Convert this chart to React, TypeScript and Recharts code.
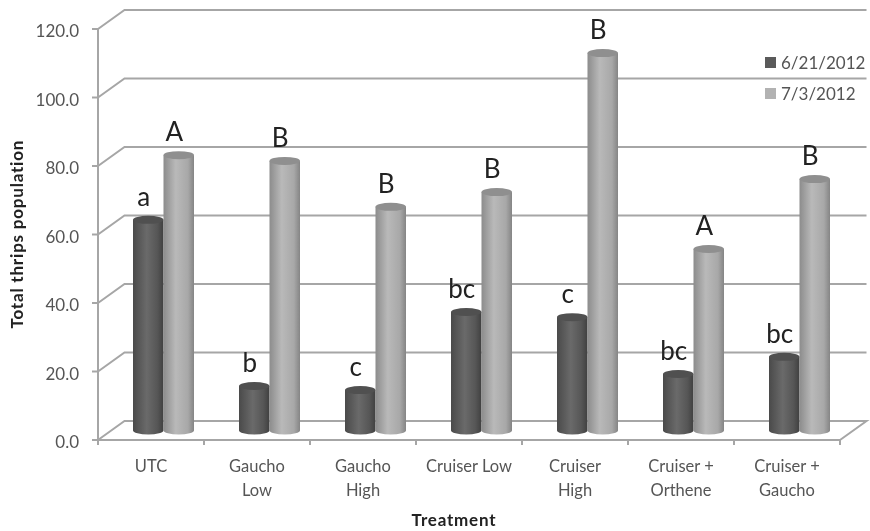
import React from "react";
import { BarChart, Bar, XAxis, YAxis, CartesianGrid, LabelList, Legend } from "recharts";

const categories = ["UTC", "Gaucho|Low", "Gaucho|High", "Cruiser Low", "Cruiser|High", "Cruiser +|Orthene", "Cruiser +|Gaucho"];
const june = [61.5, 13, 11.8, 34.6, 33.1, 16.5, 21.5];
const july = [80.4, 78.7, 65.3, 69.6, 110.2, 53, 73.4];
const juneLetters = ["a", "b", "c", "bc", "c", "bc", "bc"];
const julyLetters = ["A", "B", "B", "B", "B", "A", "B"];
const yTicks = [0, 20, 40, 60, 80, 100, 120];
const seriesNames = ["6/21/2012", "7/3/2012"];

const data = categories.map((c, i) => ({
  category: c,
  june: june[i],
  july: july[i],
  juneLetter: juneLetters[i],
  julyLetter: julyLetters[i],
}));

const W = 870, H = 531;
const M = { left: 98, right: 30, top: 29, bottom: 91 };
const PLOT_W = W - M.left - M.right;
const DEPTH_X = 26.5, DEPTH_Y = 19;
const SHIFT_X = 12, SHIFT_Y = 9.5;
const GRID = "#a6a6a6";
const TEXT = "#555555";
const FONT = "Lato, 'Open Sans', sans-serif";

const Cylinder = ({ x, y, width, height, gradient, cap }: any) => {
  const cx = x + SHIFT_X, ty = y - SHIFT_Y, ry = 4, w = width;
  const by = ty + height;
  const d = `M${cx},${ty} L${cx},${by} A${w / 2},${ry} 0 0 0 ${cx + w},${by} L${cx + w},${ty} Z`;
  return (
    <g>
      <path d={d} fill={`url(#${gradient})`} />
      <ellipse cx={cx + w / 2} cy={ty} rx={w / 2} ry={ry} fill={cap} />
    </g>
  );
};

const GridLine = ({ x1, x2, y1 }: any) => (
  <polyline
    points={`${x1},${y1} ${x1 + DEPTH_X},${y1 - DEPTH_Y} ${x2 + DEPTH_X},${y1 - DEPTH_Y}${Math.abs(y1 - (H - M.bottom)) < 1 ? ` ${x2},${y1}` : ""}`}
    fill="none"
    stroke={GRID}
    strokeWidth={2}
  />
);

const CategoryTick = ({ x, y, payload, index }: any) => {
  const lines = String(payload.value).split("|");
  const step = PLOT_W / categories.length;
  const left = x - step / 2;
  return (
    <g>
      <line x1={left} x2={left} y1={y} y2={y + 5} stroke={GRID} strokeWidth={2} />
      {index === categories.length - 1 && (
        <line x1={left + step} x2={left + step} y1={y} y2={y + 5} stroke={GRID} strokeWidth={2} />
      )}
      {lines.map((l, i) => (
        <text key={i} x={x} y={y + 32 + i * 24} textAnchor="middle" fontSize={16.5} fontFamily={FONT} fill={TEXT}>
          {l}
        </text>
      ))}
    </g>
  );
};

const LetterLabel = ({ x, y, width, value }: any) => (
  <text
    x={x + SHIFT_X + width / 2 - 4.5}
    y={y - SHIFT_Y - 14}
    textAnchor="middle"
    fontSize={26}
    fontFamily={FONT}
    fill="#222222"
  >
    {value}
  </text>
);

const LegendBox = () => (
  <div style={{ fontFamily: FONT, fontSize: 17, color: TEXT, lineHeight: "31px" }}>
    {seriesNames.map((n, i) => (
      <div key={n} style={{ display: "flex", alignItems: "center", whiteSpace: "nowrap" }}>
        <span style={{ width: 11, height: 11, marginRight: 5, background: i === 0 ? "#5a5a5a" : "#b2b2b2" }} />
        {n}
      </div>
    ))}
  </div>
);

export default function App() {
  return (
    <div style={{ position: "absolute", left: 0, top: 0, width: W, height: H, background: "#fff", filter: "blur(0.6px)" }}>
      <BarChart
        width={W}
        height={H}
        data={data}
        margin={{ left: M.left - 60, right: M.right, top: M.top, bottom: M.bottom - 40 }}
        barGap={0}
        barSize={30.5}
        barCategoryGap={0}
      >
        <defs>
          <linearGradient id="darkCyl" x1="0" x2="1" y1="0" y2="0">
            <stop offset="0" stopColor="#4a4a4a" />
            <stop offset="0.45" stopColor="#6a6a6a" />
            <stop offset="0.8" stopColor="#565656" />
            <stop offset="1" stopColor="#404040" />
          </linearGradient>
          <linearGradient id="lightCyl" x1="0" x2="1" y1="0" y2="0">
            <stop offset="0" stopColor="#8c8c8c" />
            <stop offset="0.4" stopColor="#b9b9b9" />
            <stop offset="0.8" stopColor="#a8a8a8" />
            <stop offset="1" stopColor="#858585" />
          </linearGradient>
        </defs>
        <CartesianGrid horizontal={GridLine as any} vertical={false} syncWithTicks />
        <XAxis
          dataKey="category"
          height={40}
          interval={0}
          tick={CategoryTick as any}
          tickLine={false}
          tickSize={0}
          tickMargin={0}
          axisLine={{ stroke: GRID, strokeWidth: 2 }}
          label={{ value: "Treatment", position: "insideBottom", dy: 50.5, dx: -15, fontSize: 17, fontWeight: 700, letterSpacing: 0.8, fontFamily: FONT, fill: "#222" }}
        />
        <YAxis
          width={60}
          domain={[0, 120]}
          ticks={yTicks}
          interval={0}
          tickFormatter={(v: number) => v.toFixed(1)}
          tickSize={6}
          tickMargin={13}
          tick={{ fontSize: 17, fontFamily: FONT, fill: TEXT, dy: 2 }}
          tickLine={{ stroke: GRID, strokeWidth: 2 }}
          axisLine={{ stroke: GRID, strokeWidth: 2 }}
          label={{ value: "Total thrips population", angle: -90, position: "insideLeft", dx: -26, dy: 94, fontSize: 17, fontWeight: 700, letterSpacing: 0.8, fontFamily: FONT, fill: "#222" }}
        />
        <Legend content={<LegendBox />} layout="horizontal" verticalAlign="middle" align="center" wrapperStyle={{ left: 765, top: 47, width: 105 }} />
        <Bar dataKey="june" name={seriesNames[0]} isAnimationActive={false} shape={(p: any) => <Cylinder {...p} gradient="darkCyl" cap="#505050" />}>
          <LabelList dataKey="juneLetter" content={LetterLabel as any} />
        </Bar>
        <Bar dataKey="july" name={seriesNames[1]} isAnimationActive={false} shape={(p: any) => <Cylinder {...p} gradient="lightCyl" cap="#8f8f8f" />}>
          <LabelList dataKey="julyLetter" content={LetterLabel as any} />
        </Bar>
      </BarChart>
    </div>
  );
}
